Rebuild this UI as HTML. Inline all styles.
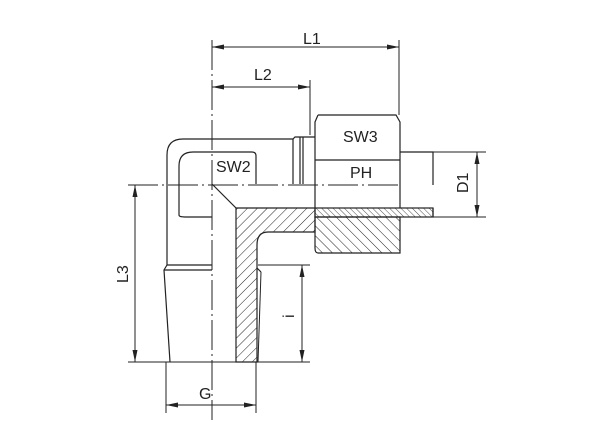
<!DOCTYPE html>
<html><head><style>html,body{margin:0;padding:0;background:#fff}svg{display:block}</style></head>
<body>
<svg width="600" height="442" viewBox="0 0 600 442" xmlns="http://www.w3.org/2000/svg" font-family="Liberation Sans Narrow, Liberation Sans, sans-serif">
<defs>
<pattern id="h" width="7" height="7" patternUnits="userSpaceOnUse" patternTransform="rotate(45)"><line x1="0" y1="0" x2="0" y2="7" stroke="#222" stroke-width="1"/></pattern>
<pattern id="h2" width="7" height="7" patternUnits="userSpaceOnUse" patternTransform="rotate(-45)"><line x1="0" y1="0" x2="0" y2="7" stroke="#222" stroke-width="1"/></pattern>
<pattern id="h3" width="4" height="4" patternUnits="userSpaceOnUse" patternTransform="rotate(-45)"><line x1="0" y1="0" x2="0" y2="4" stroke="#222" stroke-width="0.8"/></pattern>
<marker id="a" markerWidth="12" markerHeight="6" refX="12" refY="3" orient="auto-start-reverse" markerUnits="userSpaceOnUse"><path d="M0,0.5 L12,3 L0,5.5z" fill="#222"/></marker>
</defs>
<g stroke="#222" stroke-width="1.2" fill="none">
<line x1="212" y1="40" x2="212" y2="420" stroke-dasharray="30,4,2,4" stroke-width="1"/>
<line x1="128" y1="185" x2="400" y2="185" stroke-dasharray="30,4,2,4" stroke-width="1"/>
<line x1="399" y1="40" x2="399" y2="115" stroke-width="1"/>
<line x1="310" y1="80" x2="310" y2="135" stroke-width="1"/>
<line x1="212" y1="47" x2="399" y2="47" marker-start="url(#a)" marker-end="url(#a)" stroke-width="1"/>
<line x1="212" y1="87" x2="310" y2="87" marker-start="url(#a)" marker-end="url(#a)" stroke-width="1"/>
<line x1="135" y1="185" x2="135" y2="362" marker-start="url(#a)" marker-end="url(#a)" stroke-width="1"/>
<line x1="128" y1="362" x2="310" y2="362" stroke-width="1"/>
<line x1="258" y1="265" x2="310" y2="265" stroke-width="1"/>
<line x1="302" y1="265" x2="302" y2="362" marker-start="url(#a)" marker-end="url(#a)" stroke-width="1"/>
<line x1="166" y1="362" x2="166" y2="413" stroke-width="1"/>
<line x1="256" y1="362" x2="256" y2="413" stroke-width="1"/>
<line x1="166" y1="405" x2="256" y2="405" marker-start="url(#a)" marker-end="url(#a)" stroke-width="1"/>
<line x1="400" y1="152" x2="486" y2="152" stroke-width="1"/>
<line x1="400" y1="217" x2="486" y2="217" stroke-width="1"/>
<line x1="477" y1="152" x2="477" y2="217" marker-start="url(#a)" marker-end="url(#a)" stroke-width="1"/>
<path d="M167,265 L167,155 Q167,139 183,139 L293,139 L295,137 L315,137"/>
<path d="M179,215 L179,166 Q179,152 193,152 L252,152 Q256,152 256,156 L256,184"/>
<path d="M179,215 Q179,217 185,217 L212,217"/>
<line x1="293" y1="139" x2="293" y2="184"/><line x1="300" y1="137" x2="300" y2="184"/><line x1="303" y1="137" x2="303" y2="184"/>
<line x1="212" y1="184" x2="236" y2="208"/>
<path d="M236,208 L315,208 L315,232 L305,232 L268,232 Q257,232 257,245 L257,362 L236,362 Z" fill="url(#h)"/>
<rect x="315" y="208" width="118" height="9" fill="url(#h3)"/>
<path d="M315,217 L400,217 L400,253 L318,253 Q315,253 315,248 Z" fill="url(#h2)"/>
<path d="M318,115 L396,115 L400,122 L400,208 M315,208 L315,122 L318,115"/>
<line x1="315" y1="160" x2="400" y2="160"/>
<path d="M400,152 L433,152 L433,185"/>
<line x1="433" y1="208" x2="433" y2="217"/>
<path d="M167,265 L164,270 L170,362"/>
<path d="M167,265 L212,265 M164,270 L212,270"/>
<line x1="257" y1="268" x2="261" y2="272"/>
<path d="M261,272 L258,362" stroke-width="1"/>
</g>
<g fill="#222" font-size="16">
<text x="303" y="44">L1</text>
<text x="254" y="80">L2</text>
<text x="343" y="142">SW3</text>
<text x="350" y="178">PH</text>
<text x="216" y="172">SW2</text>
<text x="199" y="399">G</text>
<text transform="translate(468,193) rotate(-90)">D1</text>
<text transform="translate(128,283) rotate(-90)">L3</text>
<text transform="translate(294,318) rotate(-90)">i</text>
</g>
</svg>
</body></html>
